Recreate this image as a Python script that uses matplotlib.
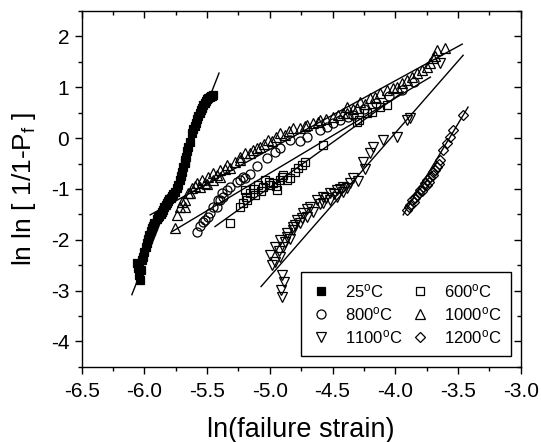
import matplotlib
matplotlib.use("Agg")
import matplotlib.pyplot as plt
from matplotlib.ticker import MultipleLocator
import matplotlib.lines as mlines

plt.rcParams['font.family'] = ['Liberation Sans', 'DejaVu Sans']
plt.rcParams['mathtext.fontset'] = 'custom'
plt.rcParams['mathtext.rm'] = 'Liberation Sans'
plt.rcParams['mathtext.it'] = 'Liberation Sans:italic'

# ---------------- data ----------------
x25 = [-6.06, -6.05, -6.04, -6.035, -6.03, -6.02, -6.01, -6.00, -5.99, -5.98, -5.97, -5.96,
       -5.95, -5.94, -5.93, -5.92, -5.90, -5.89, -5.88, -5.87, -5.86, -5.85, -5.84, -5.83,
       -5.82, -5.81, -5.80, -5.79, -5.78, -5.77, -5.76, -5.74, -5.73, -5.72, -5.71, -5.70,
       -5.69, -5.68, -5.675, -5.67, -5.66, -5.65, -5.64, -5.62, -5.61, -5.60, -5.59, -5.58,
       -5.57, -5.56, -5.55, -5.54, -5.53, -5.52, -5.51, -5.50, -5.49, -5.48, -5.47, -5.46, -5.45]
y25 = [-2.45, -2.55, -2.70, -2.80, -2.60, -2.40, -2.33, -2.25, -2.15, -2.06, -1.98, -1.90,
       -1.82, -1.77, -1.72, -1.67, -1.60, -1.56, -1.53, -1.50, -1.45, -1.41, -1.36, -1.32,
       -1.28, -1.24, -1.20, -1.17, -1.13, -1.10, -1.06, -0.98, -0.92, -0.82, -0.74, -0.66,
       -0.57, -0.49, -0.43, -0.37, -0.26, -0.17, -0.08, 0.10, 0.18, 0.24, 0.30, 0.37,
       0.43, 0.50, 0.55, 0.60, 0.66, 0.70, 0.74, 0.77, 0.79, 0.81, 0.82, 0.83, 0.84]

x600 = [-5.317, -5.238, -5.214, -5.198, -5.182, -5.158, -5.118, -5.094, -5.054, -5.038,
        -4.998, -4.974, -4.942, -4.918, -4.894, -4.862, -4.839, -4.775, -4.743, -4.719,
        -5.19, -5.13, -5.07, -5.01, -4.95, -4.90, -4.80,
        -4.575, -4.304, -4.29, -4.224, -4.185, -4.121, -4.065]
y600 = [-1.66, -1.35, -1.27, -1.02, -1.21, -1.08, -1.12, -0.92, -0.96, -0.82,
        -0.92, -0.88, -1.02, -0.82, -0.72, -0.82, -0.78, -0.58, -0.53, -0.47,
        -1.15, -1.00, -1.05, -0.86, -0.95, -0.76, -0.66,
        -0.13, 0.32, 0.36, 0.50, 0.52, 0.61, 0.65]

x800 = [-5.579, -5.557, -5.533, -5.517, -5.493, -5.477, -5.453, -5.421, -5.413, -5.397,
        -5.381, -5.373, -5.341, -5.317, -5.261, -5.237, -5.213, -5.198, -5.158, -4.919,
        -4.839, -4.704, -4.60, -4.544, -4.44, -4.336,
        -5.10, -5.02, -4.96, -4.76, -4.50, -4.38, -4.25, -4.15, -4.05, -3.95, -3.85]
y800 = [-1.84, -1.72, -1.65, -1.61, -1.55, -1.47, -1.35, -1.35, -1.21, -1.21,
        -1.08, -1.15, -1.02, -0.96, -0.86, -0.82, -0.76, -0.78, -0.70, -0.19,
        -0.03, 0.02, 0.16, 0.22, 0.36, 0.46,
        -0.55, -0.40, -0.28, -0.05, 0.30, 0.42, 0.58, 0.70, 0.82, 0.95, 1.10]

x1000 = [-5.756, -5.74, -5.716, -5.676, -5.676, -5.652, -5.636, -5.62, -5.58, -5.557,
         -5.54, -5.517, -5.493, -5.453, -5.453, -5.397, -5.397, -5.34, -5.317, -5.238,
         -5.238, -5.198, -5.134, -5.078, -5.014, -4.918, -4.815, -4.703, -4.655, -4.599,
         -4.496, -4.384, -4.384, -4.304, -4.28, -4.20, -4.065, -3.985, -3.906, -3.826,
         -3.746, -3.698, -3.666, -3.603,
         -5.70, -5.60, -5.50, -5.42, -5.36, -5.28, -5.16, -5.10, -5.05, -4.98, -4.95,
         -4.88, -4.85, -4.76, -4.72, -4.62, -4.55, -4.46, -4.42, -4.34, -4.24, -4.16,
         -4.12, -4.02, -3.95, -3.87, -3.79, -3.72, -3.68]
y1000 = [-1.76, -1.51, -1.35, -1.35, -1.21, -1.08, -1.08, -0.98, -0.88, -0.96,
         -0.82, -0.88, -0.76, -0.68, -0.82, -0.62, -0.76, -0.53, -0.58, -0.37,
         -0.43, -0.29, -0.23, -0.17, -0.03, 0.10, 0.20, 0.26, 0.30, 0.36,
         0.42, 0.50, 0.61, 0.59, 0.71, 0.79, 0.95, 1.01, 1.14, 1.28,
         1.40, 1.58, 1.73, 1.77,
         -1.25, -0.95, -0.90, -0.72, -0.60, -0.46, -0.30, -0.20, -0.12, -0.05, 0.02,
         0.06, 0.14, 0.20, 0.24, 0.32, 0.38, 0.46, 0.50, 0.58, 0.68, 0.80,
         0.88, 0.98, 1.08, 1.20, 1.34, 1.48, 1.62]

x1100 = [-4.90, -4.91, -4.89, -4.90, -4.958, -4.998, -4.918, -4.958, -4.894, -4.918,
         -4.862, -4.862, -4.815, -4.815, -4.783, -4.759, -4.735, -4.703, -4.679, -4.655,
         -4.623, -4.575, -4.575, -4.52, -4.52, -4.464, -4.464, -4.416, -4.416, -4.384,
         -4.36, -4.336, -4.256, -4.201, -4.177, -4.097, -3.985, -3.906, -3.882, -3.642,
         -4.98, -4.93, -4.88, -4.84, -4.80, -4.74, -4.70, -4.60, -4.55, -4.49, -4.44, -4.30, -4.24]
y1100 = [-3.12, -2.98, -2.84, -2.69, -2.43, -2.29, -2.33, -2.14, -2.14, -2.00,
         -1.94, -1.86, -1.80, -1.74, -1.61, -1.67, -1.47, -1.55, -1.35, -1.45,
         -1.21, -1.27, -1.15, -1.21, -1.08, -1.15, -1.02, -1.06, -0.96, -0.98,
         -0.88, -0.78, -0.47, -0.29, -0.17, -0.03, 0.02, 0.36, 0.40, 1.48,
         -2.50, -2.22, -2.05, -1.98, -1.70, -1.58, -1.40, -1.30, -1.18, -1.10, -1.00, -0.85, -0.60]

x1200 = [-3.906, -3.882, -3.866, -3.842, -3.826, -3.802, -3.778, -3.762, -3.746, -3.722,
         -3.698, -3.666, -3.642, -3.618, -3.586, -3.563, -3.539, -3.459,
         -3.89, -3.85, -3.81, -3.79, -3.75, -3.73, -3.70, -3.68, -3.65]
y1200 = [-1.41, -1.31, -1.21, -1.17, -1.12, -1.02, -0.96, -0.88, -0.82, -0.76,
         -0.66, -0.56, -0.43, -0.23, -0.09, 0.02, 0.16, 0.46,
         -1.35, -1.25, -1.08, -1.05, -0.92, -0.86, -0.72, -0.62, -0.50]

# fitted lines (end points)
fit25_x, fit25_y = [-6.10, -5.405], [-3.08, 1.28]
fit600_x, fit600_y = [-5.437, -3.937], [-1.74, 0.91]
fit800_x, fit800_y = [-5.78, -3.72], [-1.84, 1.20]
fit1000_x, fit1000_y = [-5.954, -3.466], [-1.51, 1.85]
fit1100_x, fit1100_y = [-5.07, -3.459], [-2.92, 1.63]
fit1200_x, fit1200_y = [-3.937, -3.42], [-1.51, 0.61]

labels = ['25$^{\\rm o}$C', '600$^{\\rm o}$C', '800$^{\\rm o}$C',
          '1000$^{\\rm o}$C', '1100$^{\\rm o}$C', '1200$^{\\rm o}$C']

# ---------------- plot ----------------
fig = plt.figure(figsize=(5.41, 4.42), dpi=100)
ax = fig.add_axes([0.151, 0.170, 0.8115, 0.805])

mew = 0.9
h25, = ax.plot(x25, y25, 's', ms=6, mfc='black', mec='black', mew=mew, ls='none')
h600, = ax.plot(x600, y600, 's', ms=6, mfc='none', mec='black', mew=mew, ls='none')
h800, = ax.plot(x800, y800, 'o', ms=6.5, mfc='none', mec='black', mew=mew, ls='none')
h1000, = ax.plot(x1000, y1000, '^', ms=7, mfc='none', mec='black', mew=mew, ls='none')
h1100, = ax.plot(x1100, y1100, 'v', ms=7, mfc='none', mec='black', mew=mew, ls='none')
h1200, = ax.plot(x1200, y1200, 'D', ms=5.2, mfc='none', mec='black', mew=mew, ls='none')

for fx, fy in [(fit25_x, fit25_y), (fit600_x, fit600_y), (fit800_x, fit800_y),
               (fit1000_x, fit1000_y), (fit1100_x, fit1100_y), (fit1200_x, fit1200_y)]:
    ax.plot(fx, fy, '-', color='black', lw=1.0)

ax.set_xlim(-6.5, -3.0)
ax.set_ylim(-4.5, 2.5)
ax.xaxis.set_major_locator(MultipleLocator(0.5))
ax.xaxis.set_minor_locator(MultipleLocator(0.25))
ax.yaxis.set_major_locator(MultipleLocator(1))
ax.yaxis.set_minor_locator(MultipleLocator(0.5))
ax.xaxis.set_major_formatter(plt.FuncFormatter(lambda v, p: f'{v:.1f}'))
ax.yaxis.set_major_formatter(plt.FuncFormatter(lambda v, p: f'{v:.0f}'))

ax.tick_params(which='both', direction='out', labelsize=15, width=1.0)
ax.tick_params(which='major', length=5)
ax.tick_params(which='minor', length=3)
ax.tick_params(axis='x', pad=6)
ax.tick_params(axis='y', pad=4)
ax.tick_params(which='both', top=True, right=True)
for t in ax.xaxis.get_major_ticks() + ax.xaxis.get_minor_ticks():
    t.tick2line.set_marker(mlines.TICKDOWN)
for t in ax.yaxis.get_major_ticks() + ax.yaxis.get_minor_ticks():
    t.tick2line.set_marker(mlines.TICKLEFT)
for s in ax.spines.values():
    s.set_linewidth(1.0)

ax.set_xlabel('ln(failure strain)', fontsize=19.5)
ax.xaxis.set_label_coords(0.5, -0.14)
ax.set_ylabel('ln ln [ 1/1-P$_{\\rm f}$ ]', fontsize=19)
ax.yaxis.set_label_coords(-0.10, 0.5)

handles = [h25, h600, h800, h1000, h1100, h1200]
order = [0, 2, 4, 1, 3, 5]
leg = ax.legend([handles[i] for i in order], [labels[i] for i in order], ncol=2,
                loc='lower right', bbox_to_anchor=(0.978, 0.031), borderaxespad=0,
                fontsize=12, frameon=True, fancybox=False, edgecolor='black',
                framealpha=1, handlelength=1.2, handletextpad=0.8,
                columnspacing=0.5, labelspacing=0.3, borderpad=0.6)
leg.get_frame().set_linewidth(1.0)

fig.savefig('out.png', dpi=100)
